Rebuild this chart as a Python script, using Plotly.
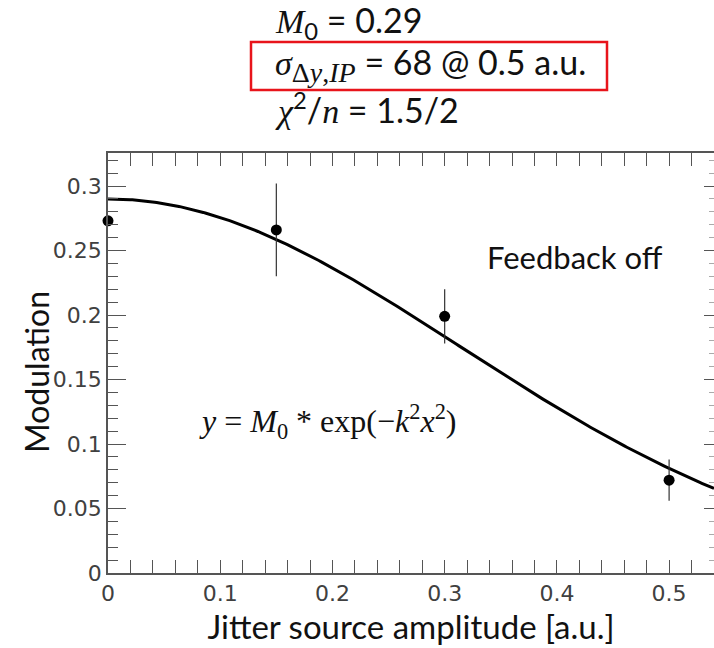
import numpy as np
import plotly.graph_objects as go

# Measured modulation versus jitter source amplitude (feedback off)
amplitude = [0.0, 0.15, 0.30, 0.50]
modulation = [0.273, 0.266, 0.199, 0.072]
modulation_err = [0.0, 0.036, 0.021, 0.016]

# Gaussian fit y = M0 * exp(-k^2 x^2)
M0 = 0.29
k_sq = 5.1
x_range = [0.0, 0.54]
y_range = [0.0, 0.3256]

x_ticks_major = 0.1
x_ticks_minor = 0.02
y_ticks_major = 0.05
y_ticks_minor = 0.01

W, H = 714, 648
ML, MR, MT, MB = 108, 0, 153, 75
PW, PH = W - ML - MR, H - MT - MB


def px(xpix):
    return (xpix - ML) / PW


def py(ypix):
    return (H - MB - ypix) / PH


fit_x = np.linspace(x_range[0], x_range[1], 300)
fit_y = M0 * np.exp(-k_sq * fit_x ** 2)

AXIS_COLOR = "#555555"
LABEL_COLOR = "#404040"
TICK_FONT = dict(family="DejaVu Sans", size=22, color=LABEL_COLOR)
SANS = "Lato"
SERIF = "Liberation Serif"

fig = go.Figure()

fig.add_trace(go.Scatter(
    x=fit_x, y=fit_y, mode="lines",
    line=dict(color="black", width=3),
    hoverinfo="skip", showlegend=False,
))

fig.add_trace(go.Scatter(
    x=amplitude, y=modulation, mode="markers",
    marker=dict(color="black", size=11),
    error_y=dict(type="data", array=modulation_err, visible=True,
                 color="#333333", thickness=1.2, width=0),
    cliponaxis=False, showlegend=False,
))

# invisible trace carrying the right-hand tick axis
fig.add_trace(go.Scatter(
    x=amplitude, y=modulation, mode="markers", yaxis="y2",
    marker=dict(opacity=0), hoverinfo="skip", showlegend=False,
))

fig.update_layout(
    width=W, height=H,
    margin=dict(l=ML, r=MR, t=MT, b=MB, pad=0),
    paper_bgcolor="white", plot_bgcolor="white",
    xaxis=dict(
        range=x_range, showgrid=False, zeroline=False,
        showline=True, linecolor=AXIS_COLOR, linewidth=1.5, mirror="allticks",
        ticks="inside", ticklen=13, tickwidth=1.3, tickcolor=AXIS_COLOR,
        tick0=0, dtick=x_ticks_major,
        minor=dict(ticks="inside", ticklen=7, tickwidth=1.2, tickcolor=AXIS_COLOR,
                   dtick=x_ticks_minor, showgrid=False),
        tickfont=TICK_FONT,
        title=dict(text="Jitter source amplitude [a.u.]",
                   font=dict(family=SANS, size=33, color="#111111"), standoff=10),
        automargin=False,
    ),
    yaxis=dict(
        range=y_range, showgrid=False, zeroline=False,
        showline=True, linecolor=AXIS_COLOR, linewidth=1.5,
        ticks="inside", ticklen=18, tickwidth=1.3, tickcolor=AXIS_COLOR,
        tick0=0, dtick=y_ticks_major,
        minor=dict(ticks="inside", ticklen=10, tickwidth=1.2, tickcolor=AXIS_COLOR,
                   dtick=y_ticks_minor, showgrid=False),
        tickfont=TICK_FONT,
        automargin=False,
    ),
    yaxis2=dict(
        overlaying="y", side="right", range=y_range,
        showgrid=False, zeroline=False, showline=False, showticklabels=False,
        ticks="inside", ticklen=10, tickwidth=1.3, tickcolor=AXIS_COLOR,
        tick0=0, dtick=y_ticks_major,
        minor=dict(ticks="inside", ticklen=5, tickwidth=1, tickcolor="#aaaaaa",
                   dtick=y_ticks_minor, showgrid=False),
    ),
)

# y-axis title, placed as rotated text beside the tick labels
fig.add_annotation(
    text="Modulation", xref="paper", yref="paper", x=px(36), y=py(372),
    xanchor="center", yanchor="middle", textangle=-90, showarrow=False,
    font=dict(family=SANS, size=32, color="#111111"),
)

txt_font = dict(family=SANS, size=34, color="#111111")
lines = [
    ("<i><span style='font-family:Liberation Serif'>M</span></i><sub>0</sub> = 0.29", 22),
    ("<i><span style='font-family:Liberation Serif'>σ</span></i>"
     "<sub><span style='font-family:Liberation Serif;font-size:28px'>Δ<i>y</i>,<i>IP</i></span></sub>"
     " = 68 @ 0.5 a.u.", 64),
    ("<i><span style='font-family:Liberation Serif'>χ</span></i><sup>2</sup>/"
     "<i><span style='font-family:Liberation Serif'>n</span></i> = 1.5/2", 108),
]
for text, ycen in lines:
    fig.add_annotation(
        text=text, xref="paper", yref="paper", x=px(273), y=py(ycen),
        xanchor="left", yanchor="middle", showarrow=False, font=txt_font,
    )

fig.add_shape(
    type="rect", xref="paper", yref="paper",
    x0=px(251), x1=px(607), y0=py(90), y1=py(42),
    line=dict(color="#e8141b", width=2.5), fillcolor="rgba(0,0,0,0)",
)

fig.add_annotation(
    text="Feedback off", xref="paper", yref="paper", x=px(485), y=py(257),
    xanchor="left", yanchor="middle", showarrow=False,
    font=dict(family=SANS, size=31, color="#111111"),
)

fig.add_annotation(
    text="<i>y</i> = <i>M</i><sub>0</sub> * exp(−<i>k</i><sup>2</sup><i>x</i><sup>2</sup>)",
    xref="paper", yref="paper", x=px(197), y=py(421),
    xanchor="left", yanchor="middle", showarrow=False,
    font=dict(family=SERIF, size=32, color="#111111"),
)

fig.write_html("out.html")
